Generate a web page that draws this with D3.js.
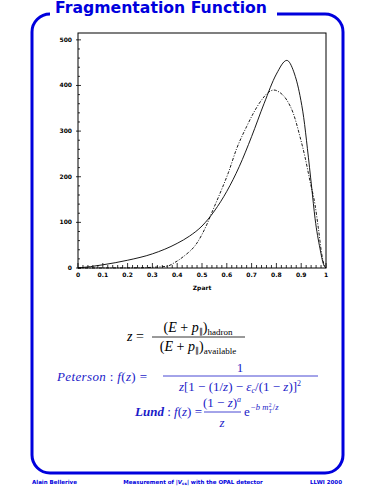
<!DOCTYPE html>
<html>
<head>
<meta charset="utf-8">
<script src="https://cdn.jsdelivr.net/npm/d3@7"></script>
<style>
  body { margin: 0; background: #fff; }
  svg { display: block; }
  .tick-label { font-family: "DejaVu Sans", sans-serif; font-weight: bold; font-size: 6px; fill: #000; }
  .math { font-family: "Liberation Serif", serif; font-size: 13px; }
  .foot { font-family: "DejaVu Sans", sans-serif; font-weight: bold; font-size: 5.5px; fill: #0000dd; }
</style>
</head>
<body>
<svg id="chart" width="375" height="500"></svg>
<script>
// curve values
const zSolid = [0, 0.05, 0.1, 0.2, 0.3, 0.4, 0.45, 0.5, 0.55, 0.6, 0.65, 0.7, 0.75, 0.8, 0.842, 0.87, 0.895, 0.91, 0.925, 0.942, 0.956, 0.976, 0.99, 1];
const fSolid = [0, 3, 7, 17, 31, 54, 70, 92, 125, 168, 222, 288, 360, 425, 455, 430, 378, 330, 262, 178, 108, 42, 8, 0];

const zDash = [0, 0.25, 0.3, 0.36, 0.39, 0.425, 0.48, 0.52, 0.54, 0.573, 0.607, 0.64, 0.68, 0.71, 0.74, 0.77, 0.79, 0.81, 0.842, 0.868, 0.895, 0.915, 0.936, 0.956, 0.969, 0.983, 0.996, 1];
const fDash = [0, 0.5, 1.5, 4, 12, 25, 55, 96, 122, 164, 210, 262, 310, 342, 368, 386, 390, 386, 368, 339, 288, 244, 189, 138, 88, 30, 2, 0];

const xTicks = [0, 0.1, 0.2, 0.3, 0.4, 0.5, 0.6, 0.7, 0.8, 0.9, 1];
const xTickLabels = ["0", "0.1", "0.2", "0.3", "0.4", "0.5", "0.6", "0.7", "0.8", "0.9", "1"];
const yTicks = [0, 100, 200, 300, 400, 500];

const svg = d3.select("#chart");
const blue = "#0000dd";

// frame with gap for the title
const frame = d3.path();
frame.moveTo(50, 14);
frame.arcTo(32, 14, 32, 32, 18);
frame.lineTo(32, 455);
frame.arcTo(32, 473, 50, 473, 18);
frame.lineTo(325, 473);
frame.arcTo(343, 473, 343, 455, 18);
frame.lineTo(343, 32);
frame.arcTo(343, 14, 325, 14, 18);
frame.lineTo(277, 14);
svg.append("path").attr("d", frame.toString())
    .attr("fill", "none").attr("stroke", blue).attr("stroke-width", 3);

svg.append("text")
    .attr("x", 55).attr("y", 12.5)
    .attr("textLength", 212).attr("lengthAdjust", "spacingAndGlyphs")
    .style("font-family", "DejaVu Sans, sans-serif").style("font-weight", "bold")
    .style("font-size", "15px").attr("fill", blue)
    .text("Fragmentation Function");

// plot
const x = d3.scaleLinear().domain([0, 1]).range([78, 326]);
const y = d3.scaleLinear().domain([0, 515]).range([268, 33]);

svg.append("rect")
    .attr("x", x(0)).attr("y", y(515))
    .attr("width", x(1) - x(0)).attr("height", y(0) - y(515))
    .attr("fill", "none").attr("stroke", "#000").attr("stroke-width", 1);

// x ticks (inward)
const xMinor = d3.range(0, 1.0001, 0.02);
svg.append("g").selectAll("line").data(xMinor).enter().append("line")
    .attr("x1", d => x(d)).attr("x2", d => x(d))
    .attr("y1", y(0))
    .attr("y2", (d, i) => i % 5 === 0 ? y(0) - 5 : y(0) - 3)
    .attr("stroke", "#000").attr("stroke-width", 0.8);

svg.append("g").selectAll("text").data(xTicks).enter().append("text")
    .attr("class", "tick-label")
    .attr("x", d => x(d)).attr("y", 277)
    .attr("text-anchor", "middle")
    .text((d, i) => xTickLabels[i]);

// y ticks (inward)
const yMinor = d3.range(0, 501, 20);
svg.append("g").selectAll("line").data(yMinor).enter().append("line")
    .attr("y1", d => y(d)).attr("y2", d => y(d))
    .attr("x1", (d, i) => i % 5 === 0 ? x(0) - 2 : x(0))
    .attr("x2", (d, i) => i % 5 === 0 ? x(0) + 3 : x(0) + 2)
    .attr("stroke", "#000").attr("stroke-width", 0.8);

svg.append("g").selectAll("text").data(yTicks).enter().append("text")
    .attr("class", "tick-label")
    .attr("x", 72).attr("y", d => y(d) + 2)
    .attr("text-anchor", "end")
    .text(d => d);

svg.append("text").attr("class", "tick-label")
    .attr("x", 202).attr("y", 290).attr("text-anchor", "middle")
    .text("Zpart");

const line = d3.line()
    .x(d => x(d[0]))
    .y(d => y(d[1]))
    .curve(d3.curveMonotoneX);

svg.append("path")
    .datum(zSolid.map((z, i) => [z, fSolid[i]]))
    .attr("d", line)
    .attr("fill", "none").attr("stroke", "#000").attr("stroke-width", 0.9);

svg.append("path")
    .datum(zDash.map((z, i) => [z, fDash[i]]))
    .attr("d", line)
    .attr("fill", "none").attr("stroke", "#000").attr("stroke-width", 0.9)
    .attr("stroke-dasharray", "3,1.5,1,1.5");

// formulas
const m = svg.append("g").attr("class", "math");

// z = (E+p)_hadron / (E+p)_available
m.append("text").attr("x", 127).attr("y", 341).style("font-size", "14px")
    .html('<tspan font-style="italic">z</tspan> =');
m.append("text").attr("x", 198).attr("y", 332).attr("text-anchor", "middle").style("font-size", "14px")
    .html('(<tspan font-style="italic">E</tspan> + <tspan font-style="italic">p</tspan><tspan font-size="8" dy="2">∥</tspan><tspan dy="-2">)</tspan><tspan font-size="9" dy="3">hadron</tspan>');
m.append("line").attr("x1", 152).attr("x2", 245).attr("y1", 337).attr("y2", 337)
    .attr("stroke", "#000").attr("stroke-width", 0.8);
m.append("text").attr("x", 198).attr("y", 351).attr("text-anchor", "middle").style("font-size", "14px")
    .html('(<tspan font-style="italic">E</tspan> + <tspan font-style="italic">p</tspan><tspan font-size="8" dy="2">∥</tspan><tspan dy="-2">)</tspan><tspan font-size="9" dy="3">available</tspan>');

// Peterson
const pb = "#1a1ac8";
m.append("text").attr("x", 57).attr("y", 381).attr("fill", pb)
    .attr("textLength", 90).attr("lengthAdjust", "spacing")
    .html('<tspan font-style="italic">Peterson</tspan> : <tspan font-style="italic">f</tspan>(<tspan font-style="italic">z</tspan>) =');
m.append("text").attr("x", 240).attr("y", 372).attr("text-anchor", "middle").attr("fill", pb)
    .text("1");
m.append("line").attr("x1", 163).attr("x2", 318).attr("y1", 376).attr("y2", 376)
    .attr("stroke", pb).attr("stroke-width", 0.8);
m.append("text").attr("x", 240).attr("y", 391).attr("text-anchor", "middle").attr("fill", pb)
    .html('<tspan font-style="italic">z</tspan>[1 − (1/<tspan font-style="italic">z</tspan>) − <tspan font-style="italic">ε</tspan><tspan font-size="8" dy="2" font-style="italic">c</tspan><tspan dy="-2">/(1 − </tspan><tspan font-style="italic">z</tspan>)]<tspan font-size="8" dy="-5">2</tspan>');

// Lund
m.append("text").attr("x", 135).attr("y", 416).attr("fill", pb)
    .html('<tspan font-style="italic" font-weight="bold">Lund</tspan> : <tspan font-style="italic">f</tspan>(<tspan font-style="italic">z</tspan>) =');
m.append("text").attr("x", 222).attr("y", 407).attr("text-anchor", "middle").attr("fill", pb)
    .html('(1 − <tspan font-style="italic">z</tspan>)<tspan font-size="8" dy="-5" font-style="italic">a</tspan>');
m.append("line").attr("x1", 204).attr("x2", 241).attr("y1", 412).attr("y2", 412)
    .attr("stroke", pb).attr("stroke-width", 0.8);
m.append("text").attr("x", 222).attr("y", 427).attr("text-anchor", "middle").attr("fill", pb)
    .html('<tspan font-style="italic">z</tspan>');

// e^{-b m_T^2 / z}, exponent pieces placed one after another
m.append("text").attr("x", 244).attr("y", 416).attr("fill", pb).text("e");
const ex1 = m.append("text").attr("x", 251).attr("y", 410).attr("fill", pb).style("font-size", "8.5px")
    .html('−<tspan font-style="italic">b m</tspan>');
const w1 = ex1.node().getComputedTextLength();
m.append("text").attr("x", 251 + w1 + 0.5).attr("y", 406.5).attr("fill", pb).style("font-size", "5.5px").text("2");
m.append("text").attr("x", 251 + w1 + 0.5).attr("y", 412.5).attr("fill", pb).style("font-size", "5.5px")
    .style("font-style", "italic").text("T");
m.append("text").attr("x", 251 + w1 + 4.5).attr("y", 410).attr("fill", pb).style("font-size", "8.5px")
    .html('/<tspan font-style="italic">z</tspan>');

// footer
svg.append("text").attr("class", "foot").attr("x", 32).attr("y", 484).text("Alain Bellerive");
svg.append("text").attr("class", "foot").attr("x", 193).attr("y", 484).attr("text-anchor", "middle")
    .html('Measurement of |<tspan font-style="italic">V</tspan><tspan font-size="4" dy="1">cs</tspan><tspan dy="-1">| with the OPAL detector</tspan>');
svg.append("text").attr("class", "foot").attr("x", 342).attr("y", 484).attr("text-anchor", "end").text("LLWI 2000");
</script>
</body>
</html>
